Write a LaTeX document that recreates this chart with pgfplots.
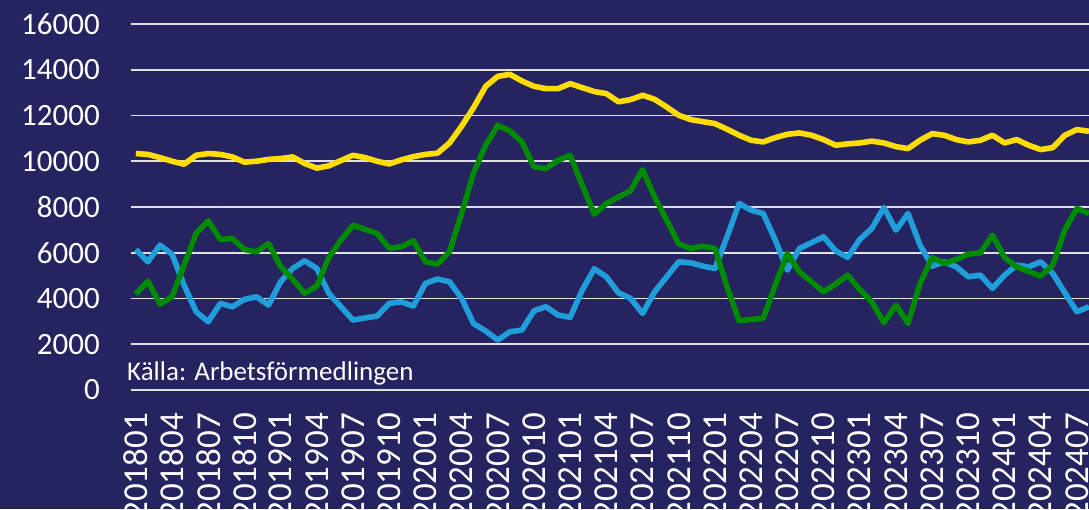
\documentclass[border=0pt]{standalone}
\usepackage{fontspec}
\setmainfont{Carlito}
\usepackage{pgfplots}
\pgfplotsset{compat=1.18}
\definecolor{bg}{RGB}{38,35,97}
\definecolor{cyellow}{RGB}{255,221,0}
\definecolor{cgreen}{RGB}{0,138,0}
\definecolor{cblue}{RGB}{31,158,218}
\definecolor{cgrid}{RGB}{224,224,224}
\newcommand{\yl}[1]{\mbox{\fontsize{31}{36}\selectfont #1}}
\newcommand{\xl}[1]{\mbox{\fontsize{35}{40}\selectfont #1}}
\begin{document}
\begin{tikzpicture}[x=1pt,y=1pt]
\fill[bg] (0,0) rectangle (1089,509);
\useasboundingbox (0,0) rectangle (1089,509);
\begin{axis}[
  at={(131pt,119pt)}, anchor=south west,
  scale only axis, width=958pt, height=366pt,
  xmin=-0.4, xmax=79, ymin=0, ymax=16000,
  axis line style={draw=none},
  major tick length=0pt,
  scaled y ticks=false,
  ytick={0,2000,4000,6000,8000,10000,12000,14000,16000},
  yticklabels={\yl{0},\yl{2000},\yl{4000},\yl{6000},\yl{8000},\yl{10000},\yl{12000},\yl{14000},\yl{16000}},
  ymajorgrids, grid style={cgrid, line width=1.6pt},
  yticklabel style={text=white, anchor=east, inner sep=0pt, xshift=-31pt},
  xtick={0,3,...,78},
  xticklabels={\xl{201801},\xl{201804},\xl{201807},\xl{201810},\xl{201901},\xl{201904},\xl{201907},\xl{201910},\xl{202001},\xl{202004},\xl{202007},\xl{202010},\xl{202101},\xl{202104},\xl{202107},\xl{202110},\xl{202201},\xl{202204},\xl{202207},\xl{202210},\xl{202301},\xl{202304},\xl{202307},\xl{202310},\xl{202401},\xl{202404},\xl{202407}},
  xticklabel style={text=white, rotate=90, anchor=east, inner sep=0pt},
  xticklabel shift=23pt,
  clip=true,
  line join=round,
]
\addplot[cblue, line width=5.6pt, no marks] coordinates {
(0,6144)(1,5604)(2,6332)(3,5939)(4,4585)(5,3420)(6,2983)(7,3785)(8,3640)(9,3960)
(10,4075)(11,3712)(12,4730)(13,5313)(14,5647)(15,5313)(16,4222)(17,3640)(18,3057)(19,3150)
(20,3232)(21,3785)(22,3856)(23,3668)(24,4659)(25,4850)(26,4730)(27,4004)(28,2900)(29,2580)
(30,2184)(31,2546)(32,2620)(33,3463)(34,3640)(35,3275)(36,3175)(37,4367)(38,5300)(39,4948)
(40,4250)(41,4004)(42,3350)(43,4293)(44,4948)(45,5604)(46,5560)(47,5415)(48,5313)(49,6695)
(50,8153)(51,7861)(52,7716)(53,6550)(54,5240)(55,6188)(56,6440)(57,6695)(58,6083)(59,5795)
(60,6581)(61,7061)(62,7978)(63,6987)(64,7716)(65,6332)(66,5415)(67,5604)(68,5385)(69,4948)
(70,5022)(71,4441)(72,5022)(73,5459)(74,5385)(75,5604)(76,5094)(77,4250)(78,3420)(79,3640)
};
\addplot[cgreen, line width=5.6pt, no marks] coordinates {
(0,4192)(1,4760)(2,3756)(3,4075)(4,5460)(5,6843)(6,7394)(7,6581)(8,6625)(9,6144)
(10,6040)(11,6406)(12,5400)(13,4840)(14,4222)(15,4542)(16,5800)(17,6550)(18,7206)(19,7020)
(20,6843)(21,6200)(22,6260)(23,6521)(24,5604)(25,5502)(26,6040)(27,7714)(28,9500)(29,10700)
(30,11573)(31,11325)(32,10844)(33,9752)(34,9680)(35,10044)(36,10262)(37,8952)(38,7686)(39,8150)
(40,8441)(41,8704)(42,9636)(43,8441)(44,7424)(45,6376)(46,6188)(47,6288)(48,6188)(49,4511)
(50,3026)(51,3087)(52,3131)(53,4585)(54,5968)(55,5166)(56,4730)(57,4293)(58,4629)(59,5022)
(60,4397)(61,3856)(62,2939)(63,3712)(64,2913)(65,4659)(66,5795)(67,5533)(68,5708)(69,5939)
(70,5996)(71,6769)(72,5795)(73,5385)(74,5180)(75,4978)(76,5459)(77,7017)(78,7934)(79,7714)
};
\addplot[cyellow, line width=5.6pt, no marks] coordinates {
(0,10337)(1,10300)(2,10160)(3,10000)(4,9870)(5,10262)(6,10337)(7,10300)(8,10190)(9,9960)
(10,10000)(11,10080)(12,10118)(13,10190)(14,9900)(15,9700)(16,9800)(17,10030)(18,10260)(19,10160)
(20,10000)(21,9880)(22,10060)(23,10200)(24,10300)(25,10350)(26,10800)(27,11529)(28,12350)(29,13276)
(30,13712)(31,13800)(32,13508)(33,13276)(34,13174)(35,13174)(36,13393)(37,13218)(38,13044)(39,12957)
(40,12600)(41,12693)(42,12883)(43,12708)(44,12372)(45,12009)(46,11820)(47,11730)(48,11646)(49,11400)
(50,11136)(51,10917)(52,10844)(53,11033)(54,11180)(55,11237)(56,11136)(57,10946)(58,10700)(59,10760)
(60,10800)(61,10880)(62,10800)(63,10640)(64,10553)(65,10917)(66,11208)(67,11136)(68,10946)(69,10844)
(70,10917)(71,11136)(72,10800)(73,10946)(74,10699)(75,10510)(76,10597)(77,11136)(78,11384)(79,11310)
};
\end{axis}
\node[anchor=base west, inner sep=0pt, text=white, font=\fontsize{27}{32}\selectfont] at (127,129) {Källa: Arbetsförmedlingen};
\end{tikzpicture}
\end{document}
